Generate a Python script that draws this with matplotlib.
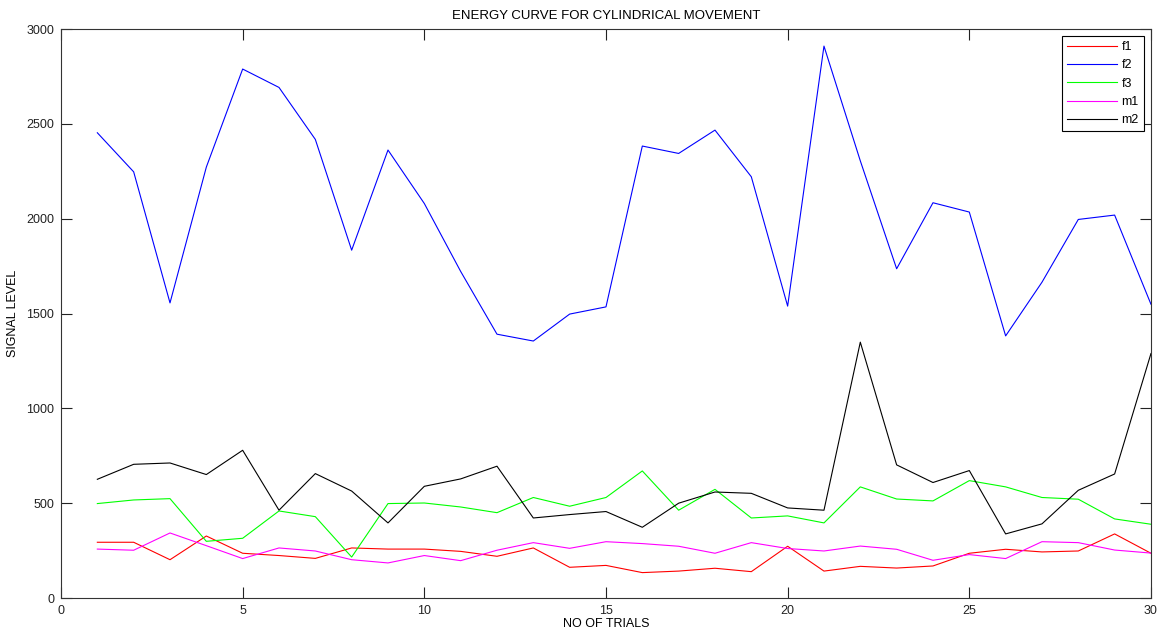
import numpy as np
import matplotlib.pyplot as plt

trials = np.arange(1, 31)

f1 = [294, 294, 202, 327, 236, 224, 209, 264, 258, 258,
      246, 220, 264, 162, 172, 134, 142, 157, 139, 273,
      142, 167, 158, 169, 236, 257, 243, 248, 338, 236]
f2 = [2453, 2247, 1556, 2272, 2789, 2692, 2418, 1834, 2362, 2080,
      1722, 1391, 1355, 1497, 1535, 2383, 2344, 2467, 2221, 1539,
      2910, 2305, 1736, 2084, 2035, 1382, 1665, 1996, 2019, 1549]
f3 = [498, 517, 524, 299, 315, 459, 429, 216, 498, 501,
      480, 450, 530, 484, 530, 670, 463, 573, 422, 433,
      396, 586, 522, 512, 619, 586, 530, 521, 417, 389]
m1 = [258, 252, 343, 276, 208, 264, 248, 202, 185, 224,
      197, 252, 292, 262, 297, 287, 273, 236, 292, 261,
      248, 274, 257, 199, 229, 208, 297, 292, 253, 237]
m2 = [626, 705, 712, 651, 779, 463, 656, 564, 396, 589,
      628, 695, 422, 440, 456, 373, 500, 559, 552, 475,
      463, 1349, 702, 609, 672, 338, 391, 568, 654, 1289]

series = [("f1", f1, "#ff0000"), ("f2", f2, "#0000ff"), ("f3", f3, "#00ff00"),
          ("m1", m1, "#ff00ff"), ("m2", m2, "#000000")]

plt.rcParams['font.family'] = ['Liberation Sans', 'DejaVu Sans']

fig = plt.figure(figsize=(11.62, 6.42), dpi=100)
ax = fig.add_axes([0.0525, 0.0685, 0.938, 0.8863])

for name, vals, col in series:
    ax.plot(trials, vals, color=col, linewidth=0.8, label=name)

ax.set_xlim(0, 30)
ax.set_ylim(0, 3000)
ax.set_xticks(np.arange(0, 31, 5))
ax.set_yticks(np.arange(0, 3001, 500))
ax.tick_params(direction='in', length=8, width=0.8, top=True, right=True,
               labelsize=9, colors='#222222', pad=5)
for sp in ax.spines.values():
    sp.set_linewidth(0.8)
    sp.set_color('#333333')

ax.set_title("ENERGY CURVE FOR CYLINDRICAL MOVEMENT", fontsize=9.5, pad=7)
ax.set_xlabel("NO OF TRIALS", fontsize=9, labelpad=1)
ax.set_ylabel("SIGNAL LEVEL", fontsize=9, labelpad=5)

leg = ax.legend(loc='upper right', bbox_to_anchor=(0.9935, 0.9875), fontsize=9,
                fancybox=False, framealpha=1, edgecolor='black',
                handlelength=4.0, handletextpad=0.4, labelspacing=0.5,
                borderpad=0.4, borderaxespad=0)
leg.get_frame().set_linewidth(0.8)

fig.savefig("out.png", dpi=100)
